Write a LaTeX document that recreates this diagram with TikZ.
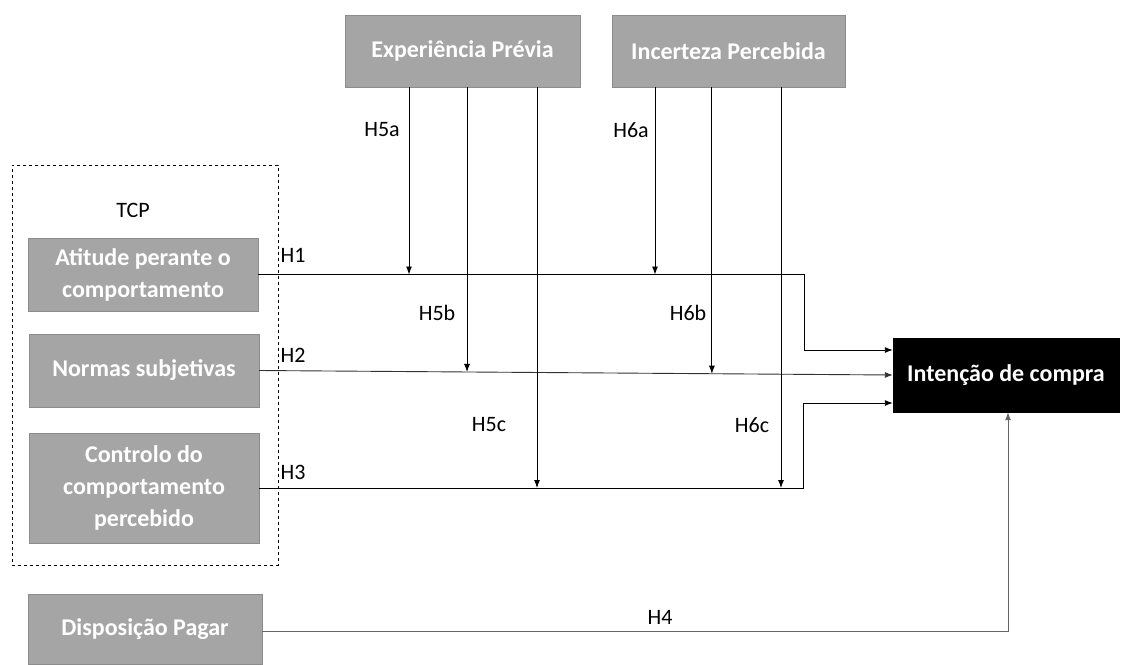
\documentclass[tikz,border=0pt]{standalone}
\usepackage{fontspec}
\setmainfont{Carlito}
\usepackage{tikz}
\usetikzlibrary{arrows.meta,calc}

\definecolor{boxgray}{HTML}{A5A5A5}
\definecolor{edgegray}{HTML}{8C8C8C}

\begin{document}
\begin{tikzpicture}[
    x=1pt, y=-1pt,
    var/.style={draw=edgegray, fill=boxgray, text=white, align=center,
                font=\fontsize{24}{32}\selectfont\bfseries,
                minimum width=230pt, minimum height=73pt, inner sep=2pt},
    target/.style={var, draw=black, fill=black, minimum width=226pt,
                minimum height=74pt},
    hyp/.style={font=\fontsize{22}{26}\selectfont, inner sep=1pt},
    link/.style={-{Latex[length=8pt,width=6pt]}, line width=0.9pt},
    plain/.style={line width=0.9pt}
]
  \useasboundingbox (0,0) rectangle (1121,664);

  % moderators
  \node[var, minimum width=235pt, minimum height=72pt] (exp) at (462.5,51) {Experiência Prévia};
  \node[var, minimum width=233pt, minimum height=72pt] (inc) at (728.5,51) {Incerteza Percebida};

  % theory of planned behaviour
  \node[draw, dashed, line width=0.8pt, minimum width=266pt, minimum height=400pt] (tcp) at (145,365) {};
  \node[hyp] (tcplbl) at (133,210) {TCP};
  \node[var] (att) at (143,274.5) {Atitude perante o\\comportamento};
  \node[var] (norm) at (144,370.5) {Normas subjetivas};
  \node[var, minimum height=110pt] (ctrl) at (144,488) {Controlo do\\comportamento\\percebido};
  \node[var, minimum width=234pt, minimum height=70pt] (disp) at (145,629) {Disposição Pagar};

  \node[target] (int) at (1006,375) {Intenção de compra};

  % bends and meeting points
  \coordinate (bendA) at (804,274.5);
  \coordinate (bendC) at (803,488);
  \coordinate (bendD) at (1008,631);
  \coordinate (h5a) at (409,274.5);
  \coordinate (h6a) at (655,274.5);
  \coordinate (h5b) at ($(norm.east)!0.328!(int.west)$);
  \coordinate (h6b) at ($(norm.east)!0.7145!(int.west)$);
  \coordinate (h5c) at (537,488);
  \coordinate (h6c) at (781,488);

  % main paths
  \draw[link] (att.east) -- (bendA) |- ([yshift=25pt]int.west);
  \draw[link, draw=black!80] (norm.east) -- (int.west);
  \draw[link] (ctrl.east) -- (bendC) |- ([yshift=-28pt]int.west);
  \draw[link, draw=black!60] (disp.east |- bendD) -- (bendD) -- (int.south -| bendD);

  % moderating paths
  \draw[link] (exp.south -| h5a) -- (h5a);
  \draw[link] (exp.south -| h5b) -- (h5b);
  \draw[link] (exp.south -| h5c) -- (h5c);
  \draw[link] (inc.south -| h6a) -- (h6a);
  \draw[link] (inc.south -| h6b) -- (h6b);
  \draw[link] (inc.south -| h6c) -- (h6c);

  % hypotheses
  \node[hyp] (lh1) at (293,255) {H1};
  \node[hyp] (lh2) at (293,355) {H2};
  \node[hyp] (lh3) at (293,472) {H3};
  \node[hyp] (lh4) at (660,617) {H4};
  \node[hyp] (lh5a) at (382,130) {H5a};
  \node[hyp] (lh5b) at (437,313) {H5b};
  \node[hyp] (lh5c) at (489,425) {H5c};
  \node[hyp] (lh6a) at (631,130) {H6a};
  \node[hyp] (lh6b) at (688,313) {H6b};
  \node[hyp] (lh6c) at (752,425) {H6c};
\end{tikzpicture}
\end{document}
